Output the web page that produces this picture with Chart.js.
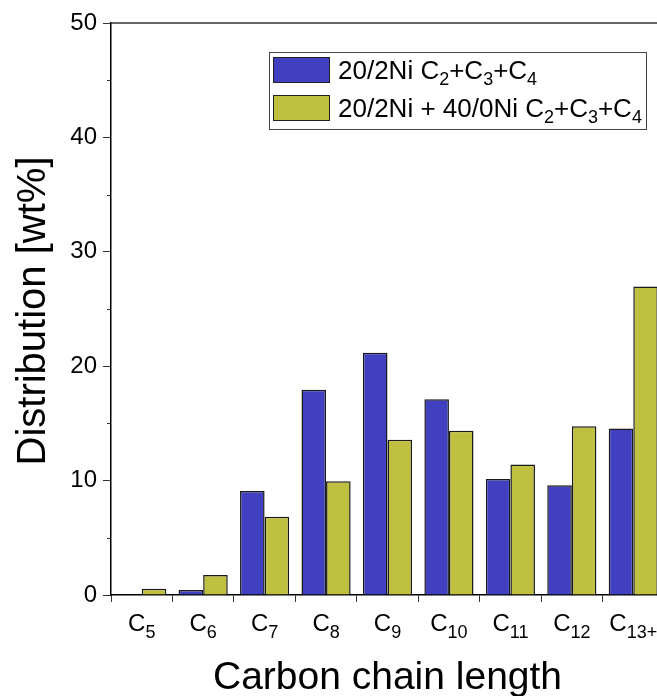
<!DOCTYPE html>
<html>
<head>
<meta charset="utf-8">
<script src="https://cdn.jsdelivr.net/npm/chart.js@4.4.1/dist/chart.umd.min.js"></script>
<style>
  html, body { margin: 0; padding: 0; background: #fff; overflow: hidden; }
  #wrap { width: 680px; height: 696px; }
</style>
</head>
<body>
<div id="wrap"><canvas id="chart" width="680" height="696"></canvas></div>
<script>
// categories and values (wt%)
const categories = ['C_{5}', 'C_{6}', 'C_{7}', 'C_{8}', 'C_{9}', 'C_{10}', 'C_{11}', 'C_{12}', 'C_{13+}'];
const seriesNames = ['20/2Ni C_{2}+C_{3}+C_{4}', '20/2Ni + 40/0Ni C_{2}+C_{3}+C_{4}'];
const ni20 = [0, 0.44, 9.1, 17.94, 21.17, 17.11, 10.15, 9.59, 14.55];
const ni20ni40 = [0.55, 1.75, 6.85, 9.94, 13.56, 14.35, 11.4, 14.75, 26.97];
const yTicks = [0, 10, 20, 30, 40, 50];

const FONT = "'Liberation Sans', Arial, sans-serif";
const BLUE = '#4040c0';
const YELLOW = '#c0c040';

// split "C_{13+}" into [{t:'C',sub:false},{t:'13+',sub:true}]
function parts(str) {
    const out = [];
    const re = /_\{([^}]*)\}/g;
    let last = 0, m;
    while ((m = re.exec(str)) !== null) {
        if (m.index > last) out.push({ t: str.slice(last, m.index), sub: false });
        out.push({ t: m[1], sub: true });
        last = re.lastIndex;
    }
    if (last < str.length) out.push({ t: str.slice(last), sub: false });
    return out;
}

function richWidth(ctx, str, size, subSize) {
    let w = 0;
    parts(str).forEach(p => {
        ctx.font = (p.sub ? subSize : size) + 'px ' + FONT;
        w += ctx.measureText(p.t).width;
    });
    return w;
}

function drawRich(ctx, str, x, y, size, subSize, subDrop) {
    ctx.textAlign = 'left';
    ctx.textBaseline = 'alphabetic';
    parts(str).forEach(p => {
        ctx.font = (p.sub ? subSize : size) + 'px ' + FONT;
        ctx.fillText(p.t, x, p.sub ? y + subDrop : y);
        x += ctx.measureText(p.t).width;
    });
}

const extras = {
    id: 'extras',
    afterDraw(chart) {
        const ctx = chart.ctx;
        const area = chart.chartArea;
        const xs = chart.scales.x;
        const ys = chart.scales.y;
        ctx.save();
        ctx.fillStyle = '#000';
        ctx.strokeStyle = '#333';

        // top frame
        ctx.lineWidth = 1.5;
        ctx.beginPath();
        ctx.moveTo(area.left, area.top);
        ctx.lineTo(area.right, area.top);
        ctx.stroke();

        // minor y ticks
        ctx.lineWidth = 1;
        for (let v = 5; v < 50; v += 10) {
            const py = Math.round(ys.getPixelForValue(v)) + 0.5;
            ctx.beginPath();
            ctx.moveTo(area.left - 4, py);
            ctx.lineTo(area.left, py);
            ctx.stroke();
        }

        // x tick labels with subscripts
        categories.forEach((c, i) => {
            const cx = xs.getPixelForValue(i);
            const w = richWidth(ctx, c, 24, 18);
            drawRich(ctx, c, cx - w / 2, area.bottom + 36, 24, 18, 7);
        });

        // axis titles
        ctx.font = '39px ' + FONT;
        ctx.textAlign = 'center';
        ctx.textBaseline = 'alphabetic';
        ctx.fillText('Carbon chain length', (area.left + area.right) / 2, 689);
        ctx.font = '40px ' + FONT;
        ctx.save();
        ctx.translate(45, (area.top + area.bottom) / 2 + 2);
        ctx.rotate(-Math.PI / 2);
        ctx.fillText('Distribution [wt%]', 0, 0);
        ctx.restore();

        // legend
        ctx.fillStyle = '#fff';
        ctx.fillRect(269, 52, 378, 78);
        ctx.strokeStyle = '#444';
        ctx.lineWidth = 1;
        ctx.strokeRect(269.5, 52.5, 377, 77);
        const colors = [BLUE, YELLOW];
        seriesNames.forEach((name, i) => {
            const top = 57 + i * 38;
            ctx.fillStyle = colors[i];
            ctx.fillRect(273, top, 57, 26);
            ctx.strokeStyle = '#222';
            ctx.strokeRect(273.5, top + 0.5, 56, 25);
            ctx.fillStyle = '#000';
            drawRich(ctx, name, 338, top + 22, 26, 18, 6);
        });
        ctx.restore();
    }
};

new Chart(document.getElementById('chart'), {
    type: 'bar',
    data: {
        labels: categories,
        datasets: [
            { label: seriesNames[0], data: ni20, backgroundColor: BLUE, borderColor: '#1a1a1a', borderWidth: 1.5 },
            { label: seriesNames[1], data: ni20ni40, backgroundColor: YELLOW, borderColor: '#1a1a1a', borderWidth: 1.5 }
        ]
    },
    options: {
        responsive: false,
        animation: false,
        devicePixelRatio: 1,
        layout: { padding: { left: 0, top: 23, right: 16, bottom: 0 } },
        datasets: { bar: { categoryPercentage: 0.8, barPercentage: 1.0 } },
        plugins: { legend: { display: false }, title: { display: false }, tooltip: { enabled: false } },
        scales: {
            x: {
                offset: true,
                grid: { offset: true, drawOnChartArea: false, drawTicks: true, tickLength: 7, color: '#333', lineWidth: 1 },
                border: { display: true, color: '#000', width: 1.5 },
                ticks: { display: false },
                afterFit(scale) { scale.height = 101; }
            },
            y: {
                min: 0,
                max: 50,
                afterBuildTicks(scale) {
                    scale.ticks = yTicks.map(v => ({ value: v }));
                },
                grid: { drawOnChartArea: false, drawTicks: true, tickLength: 8, color: '#333', lineWidth: 1 },
                border: { display: true, color: '#000', width: 1.5 },
                ticks: { font: { family: FONT, size: 24 }, color: '#000', padding: 6 },
                afterFit(scale) { scale.width = 111; }
            }
        }
    },
    plugins: [extras]
});
</script>
</body>
</html>
